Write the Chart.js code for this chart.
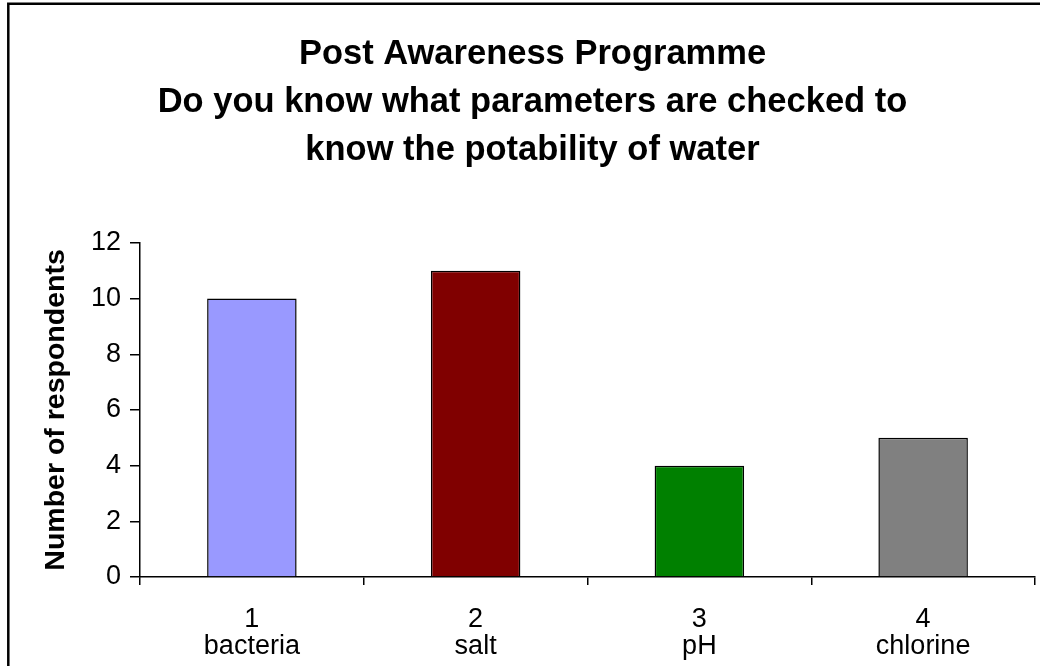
<!DOCTYPE html>
<html>
<head>
<meta charset="utf-8">
<script src="https://cdn.jsdelivr.net/npm/chart.js@4"></script>
<style>
  html, body { margin: 0; padding: 0; background: #fff; }
  #wrap { width: 1040px; height: 666px; }
</style>
</head>
<body>
<div id="wrap"><canvas id="potability"></canvas></div>
<script>
const titleLines = ['Post Awareness Programme', 'Do you know what parameters are checked to', 'know the potability of water'];
const codes = ['1', '2', '3', '4'];
const parameters = ['bacteria', 'salt', 'pH', 'chlorine'];
const respondents = [10, 11, 4, 5];
const barColours = ['#9999FF', '#800000', '#008000', '#808080'];
const yTicks = { min: 0, max: 12, step: 2 };

// white page plus the outer frame (left and top edges only, the rest runs off the canvas)
const framePlugin = {
  id: 'frame',
  beforeDraw(chart) {
    const ctx = chart.ctx;
    ctx.save();
    ctx.fillStyle = '#fff';
    ctx.fillRect(0, 0, chart.width, chart.height);
    ctx.strokeStyle = '#000';
    ctx.lineWidth = 2.5;
    ctx.beginPath();
    ctx.moveTo(8.3, chart.height);
    ctx.lineTo(8.3, 3.7);
    ctx.lineTo(chart.width, 3.7);
    ctx.stroke();
    ctx.restore();
  }
};

const font = 'Liberation Sans, Arial, sans-serif';
const ctx = document.getElementById('potability').getContext('2d');
new Chart(ctx, {
  type: 'bar',
  data: {
    labels: codes.map((c, i) => [c, parameters[i]]),
    datasets: [{
      data: respondents,
      backgroundColor: barColours,
      borderColor: '#000',
      borderWidth: 1.5,
      categoryPercentage: 1,
      barPercentage: 0.4
    }]
  },
  options: {
    responsive: true,
    maintainAspectRatio: false,
    animation: false,
    layout: { padding: { left: 30, right: 5, top: 0, bottom: 0 } },
    plugins: {
      legend: { display: false },
      tooltip: { enabled: false },
      title: {
        display: true,
        text: titleLines,
        color: '#000',
        font: { family: font, size: 34.5, weight: 'bold', lineHeight: 1.4 },
        padding: { top: 30, bottom: 68 }
      }
    },
    scales: {
      x: {
        grid: { drawOnChartArea: false, drawTicks: true, tickLength: 8, color: '#000', lineWidth: 1.5, offset: true },
        border: { color: '#000', width: 1.5 },
        ticks: {
          color: '#000',
          padding: 21,
          maxRotation: 0,
          font: { family: font, size: 27, lineHeight: 1.0 }
        },
        afterFit(scale) { scale.height = 89; }
      },
      y: {
        min: yTicks.min,
        max: yTicks.max,
        grid: { drawOnChartArea: false, drawTicks: true, tickLength: 10, color: '#000', lineWidth: 1.5 },
        border: { color: '#000', width: 1.5 },
        ticks: {
          stepSize: yTicks.step,
          color: '#000',
          padding: 9,
          font: { family: font, size: 27 }
        },
        title: {
          display: true,
          text: 'Number of respondents',
          color: '#000',
          padding: { top: 9, bottom: 0 },
          font: { family: font, size: 28.5, weight: 'bold', lineHeight: 1.2 }
        },
        afterFit(scale) { scale.width = 110; }
      }
    }
  },
  plugins: [framePlugin]
});
</script>
</body>
</html>
